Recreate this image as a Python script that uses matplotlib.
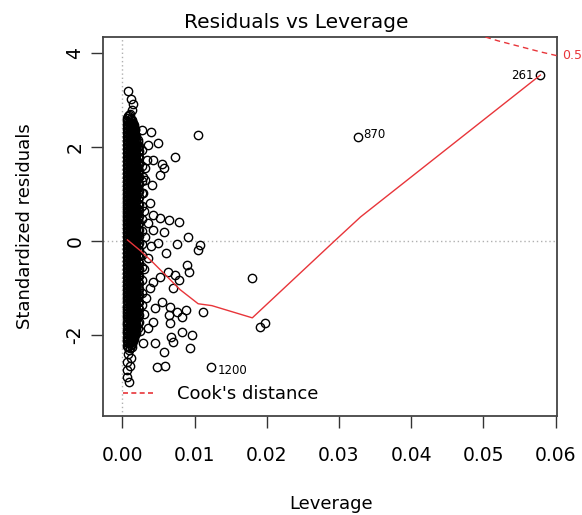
import matplotlib
matplotlib.use("Agg")
import matplotlib.pyplot as plt
from matplotlib.lines import Line2D

# ---- data ----
# dense core of the leverage column: one list of residuals per leverage strip
core_lev = [0.0007, 0.00085, 0.0010, 0.00115, 0.0013, 0.00145, 0.0016, 0.00175, 0.0019, 0.0021, 0.0023, 0.0027]
core_res_1 = [-2.22, -2.13, -2.05, -1.96, -1.88, -1.79, -1.71, -1.62, -1.53, -1.45, -1.37, -1.28, -1.19, -1.11,
              -1.02, -0.94, -0.85, -0.77, -0.68, -0.6, -0.51, -0.42, -0.34, -0.25, -0.17, -0.08, 0.0, 0.09,
              0.17, 0.26, 0.34, 0.43, 0.51, 0.6, 0.69, 0.77, 0.86, 0.94, 1.03, 1.11, 1.2, 1.28, 1.37, 1.45,
              1.54, 1.62, 1.71, 1.79, 1.88, 1.96, 2.05, 2.13, 2.22, 2.3, 2.39, 2.47, 2.56, 2.62]
core_res_2 = [-2.25, -2.16, -2.08, -1.99, -1.9, -1.82, -1.73, -1.64, -1.56, -1.47, -1.39, -1.3, -1.21, -1.13,
              -1.04, -0.96, -0.87, -0.79, -0.7, -0.62, -0.53, -0.44, -0.36, -0.27, -0.19, -0.1, -0.02, 0.07,
              0.15, 0.24, 0.32, 0.41, 0.49, 0.58, 0.67, 0.75, 0.84, 0.92, 1.01, 1.09, 1.18, 1.26, 1.35, 1.43,
              1.52, 1.6, 1.69, 1.77, 1.86, 1.94, 2.03, 2.11, 2.2, 2.28, 2.37, 2.45, 2.54, 2.66]
core_res_3 = [-2.28, -2.17, -2.09, -2.0, -1.92, -1.83, -1.74, -1.66, -1.57, -1.49, -1.41, -1.32, -1.23, -1.15,
              -1.06, -0.98, -0.89, -0.81, -0.72, -0.64, -0.55, -0.46, -0.38, -0.29, -0.21, -0.12, -0.04, 0.05,
              0.13, 0.22, 0.3, 0.39, 0.47, 0.56, 0.65, 0.73, 0.82, 0.9, 0.99, 1.07, 1.16, 1.24, 1.33, 1.41,
              1.5, 1.58, 1.67, 1.75, 1.84, 1.92, 2.01, 2.09, 2.18, 2.26, 2.35, 2.43, 2.52, 2.61, 2.7]
core_res_4 = [-2.2, -2.12, -2.03, -1.94, -1.86, -1.77, -1.69, -1.6, -1.52, -1.43, -1.35, -1.26, -1.17, -1.09,
              -1.0, -0.92, -0.83, -0.75, -0.66, -0.58, -0.49, -0.41, -0.32, -0.23, -0.15, -0.06, 0.02, 0.11,
              0.19, 0.28, 0.36, 0.45, 0.53, 0.62, 0.7, 0.79, 0.87, 0.96, 1.04, 1.13, 1.21, 1.3, 1.38, 1.47,
              1.55, 1.64, 1.72, 1.81, 1.89, 1.98, 2.06, 2.15, 2.23, 2.32, 2.4, 2.49, 2.6]
core_res_5 = [-2.18, -2.1, -2.01, -1.92, -1.84, -1.75, -1.67, -1.58, -1.5, -1.41, -1.33, -1.24, -1.16, -1.07,
              -0.99, -0.9, -0.82, -0.73, -0.65, -0.56, -0.48, -0.39, -0.31, -0.22, -0.14, -0.05, 0.03, 0.12,
              0.2, 0.29, 0.37, 0.46, 0.54, 0.63, 0.71, 0.8, 0.88, 0.97, 1.05, 1.14, 1.22, 1.31, 1.39, 1.48,
              1.56, 1.65, 1.73, 1.82, 1.9, 1.99, 2.07, 2.16, 2.24, 2.33, 2.41, 2.5, 2.58]
core_res_6 = [-2.12, -2.03, -1.95, -1.86, -1.77, -1.68, -1.6, -1.51, -1.42, -1.33, -1.24, -1.16, -1.07, -0.98,
              -0.89, -0.8, -0.72, -0.63, -0.54, -0.45, -0.36, -0.28, -0.19, -0.1, -0.01, 0.07, 0.16, 0.25,
              0.34, 0.42, 0.51, 0.6, 0.69, 0.77, 0.86, 0.95, 1.04, 1.12, 1.21, 1.3, 1.39, 1.47, 1.56, 1.65,
              1.74, 1.82, 1.91, 2.0, 2.09, 2.17, 2.26, 2.35, 2.44, 2.52]
core_res_7 = [-2.08, -1.99, -1.9, -1.81, -1.73, -1.64, -1.55, -1.46, -1.37, -1.29, -1.2, -1.11, -1.02, -0.94,
              -0.85, -0.76, -0.67, -0.59, -0.5, -0.41, -0.32, -0.24, -0.15, -0.06, 0.03, 0.11, 0.2, 0.29,
              0.38, 0.46, 0.55, 0.64, 0.73, 0.81, 0.9, 0.99, 1.08, 1.16, 1.25, 1.34, 1.43, 1.51, 1.6, 1.69,
              1.78, 1.86, 1.95, 2.04, 2.13, 2.21, 2.3, 2.39, 2.48]
core_res_8 = [-2.0, -1.91, -1.82, -1.72, -1.63, -1.54, -1.44, -1.35, -1.26, -1.16, -1.07, -0.98, -0.88, -0.79,
              -0.7, -0.6, -0.51, -0.42, -0.32, -0.23, -0.14, -0.04, 0.05, 0.14, 0.24, 0.33, 0.42, 0.52,
              0.61, 0.7, 0.8, 0.89, 0.98, 1.08, 1.17, 1.26, 1.36, 1.45, 1.54, 1.64, 1.73, 1.82, 1.92, 2.01,
              2.1, 2.2, 2.29, 2.38]
core_res_9 = [-1.95, -1.85, -1.76, -1.66, -1.55, -1.46, -1.36, -1.25, -1.16, -1.06, -0.95, -0.86, -0.76, -0.65,
              -0.56, -0.46, -0.35, -0.26, -0.16, -0.05, 0.04, 0.14, 0.25, 0.34, 0.44, 0.55, 0.64, 0.74,
              0.85, 0.94, 1.04, 1.15, 1.24, 1.34, 1.45, 1.54, 1.64, 1.75, 1.84, 1.94, 2.05, 2.14, 2.25]
core_res_10 = [-1.85, -1.74, -1.62, -1.51, -1.4, -1.29, -1.18, -1.07, -0.96, -0.85, -0.74, -0.63, -0.52, -0.41,
               -0.3, -0.19, -0.08, 0.03, 0.14, 0.25, 0.36, 0.47, 0.58, 0.69, 0.8, 0.91, 1.02, 1.13,
               1.24, 1.35, 1.46, 1.57, 1.68, 1.79, 1.9, 2.01, 2.15]
core_res_11 = [-1.72, -1.57, -1.44, -1.3, -1.15, -1.02, -0.88, -0.73, -0.6, -0.46, -0.31, -0.18, -0.04, 0.11,
               0.24, 0.38, 0.53, 0.66, 0.8, 0.95, 1.08, 1.22, 1.37, 1.5, 1.64, 1.79, 1.92, 2.03]
core_res_12 = [-1.35, -1.1, -0.82, -0.55, -0.3, -0.05, 0.22, 0.48, 0.75, 1.02, 1.28, 1.6]

# scattered points outside the dense core
spread_lev = [0.0008, 0.0012, 0.0015, 0.0013, 0.0009, 0.0011, 0.0018,
              0.0022, 0.0027, 0.0040, 0.0049, 0.0073, 0.0105, 0.0043, 0.0034, 0.0027, 0.0057,
              0.0052, 0.0032, 0.0055, 0.0029, 0.0041, 0.0029, 0.0038, 0.0043, 0.0052, 0.0064,
              0.0079, 0.0043, 0.0057, 0.0091, 0.0076, 0.0108, 0.0105, 0.0050, 0.0031, 0.0036,
              0.0030, 0.0035, 0.0032, 0.0040,
              0.0060, 0.0089, 0.0093, 0.0063, 0.0073, 0.0052, 0.0043, 0.0078, 0.0070, 0.0038,
              0.0055, 0.0066, 0.0076, 0.0088, 0.0112, 0.0045, 0.0064, 0.0083, 0.0043, 0.0066,
              0.0083, 0.0096, 0.0067, 0.0070, 0.0029, 0.0045, 0.0057, 0.0094, 0.0048, 0.0059,
              0.0180, 0.0191, 0.0198, 0.0035, 0.0030, 0.0033, 0.0030, 0.0036, 0.0025,
              0.0009, 0.0008, 0.0007, 0.0007, 0.0007, 0.0009, 0.0014, 0.0012, 0.0011]
spread_res = [3.20, 3.04, 2.92, 2.80, 2.68, 2.55, 2.40,
              2.12, 2.37, 2.33, 2.10, 1.80, 2.27, 1.73, 1.73, 1.95, 1.57,
              1.41, 1.31, 1.64, 1.37, 1.20, 1.03, 0.82, 0.56, 0.50, 0.46,
              0.41, 0.24, 0.20, 0.09, -0.05, -0.07, -0.18, -0.03, 1.55, 2.05,
              0.65, 0.40, 0.10, -0.10,
              -0.24, -0.50, -0.66, -0.66, -0.71, -0.75, -0.86, -0.82, -0.99, -0.99,
              -1.29, -1.40, -1.50, -1.46, -1.51, -1.42, -1.57, -1.62, -1.72, -1.74,
              -1.93, -2.00, -2.03, -2.14, -2.16, -2.16, -2.36, -2.27, -2.67, -2.65,
              -0.78, -1.83, -1.75, -0.35, -0.60, -1.20, -1.55, -1.85, -1.90,
              -2.31, -2.41, -2.56, -2.73, -2.90, -2.99, -2.25, -2.48, -2.65]

# labelled observations
lab_ids = ["261", "870", "1200"]
lab_lev = [0.0579, 0.0327, 0.0123]
lab_res = [3.54, 2.22, -2.67]

# red smoother
smooth_lev = [0.0007, 0.0025, 0.0043, 0.0080, 0.0105, 0.0124, 0.0180, 0.0292, 0.0330, 0.0579]
smooth_res = [0.03, -0.20, -0.46, -1.03, -1.33, -1.37, -1.63, -0.02, 0.52, 3.54]

# Cook's distance 0.5 contour (upper right corner)
cook_level = 0.5
cook_lev = [0.0490, 0.0520, 0.0550, 0.0580, 0.0625]
cook_res = [4.41, 4.27, 4.15, 4.03, 3.87]

x_ticks = [0.00, 0.01, 0.02, 0.03, 0.04, 0.05, 0.06]
y_ticks = [-2, 0, 2, 4]

plt.rcParams['font.family'] = ['DejaVu Sans']

W, H = 582, 515
fig = plt.figure(figsize=(W / 100, H / 100), dpi=100)
ax = fig.add_axes([103 / W, 99 / H, 454 / W, 379 / H])

# reference lines
ax.axhline(0, color='#b0b0b0', linestyle=(0, (1, 2)), linewidth=1, zorder=1)
ax.axvline(0, color='#b0b0b0', linestyle=(0, (1, 2)), linewidth=1, zorder=1)

# points
pt_style = dict(marker='o', linestyle='none', markerfacecolor='none', markeredgecolor='black',
                markersize=6, markeredgewidth=1.0, zorder=3)
core_strips = [core_res_1, core_res_2, core_res_3, core_res_4, core_res_5, core_res_6,
               core_res_7, core_res_8, core_res_9, core_res_10, core_res_11, core_res_12]
for lev, res in zip(core_lev, core_strips):
    ax.plot([lev] * len(res), res, **pt_style)
ax.plot(spread_lev, spread_res, **pt_style)
ax.plot(lab_lev, lab_res, **pt_style)

# smoother and Cook's contour
red = '#e8353a'
ax.plot(smooth_lev, smooth_res, color=red, linewidth=1.0, zorder=4)
ax.plot(cook_lev, cook_res, color=red, linestyle=(0, (4, 3)), linewidth=1.0, zorder=4)
ax.annotate(str(cook_level), xy=(1.0, cook_res[-2] - 0.08), xycoords=('axes fraction', 'data'),
            xytext=(4, 0), textcoords='offset points', ha='left', va='center',
            color=red, fontsize=9, annotation_clip=False)

# point labels
offsets = {"261": (-5, 0, 'right'), "870": (3.5, 1.5, 'left'), "1200": (5, -3, 'left')}
for name, lv, rs in zip(lab_ids, lab_lev, lab_res):
    dx, dy, ha = offsets[name]
    ax.annotate(name, xy=(lv, rs), xytext=(dx, dy), textcoords='offset points',
                ha=ha, va='center', fontsize=8.5)

ax.set_xlim(-0.00268, 0.0602)
ax.set_ylim(-3.72, 4.35)
ax.set_xticks(x_ticks)
ax.set_xticklabels([f"{v:.2f}" for v in x_ticks])
ax.set_yticks(y_ticks)
ax.set_yticklabels([str(v) for v in y_ticks], rotation=90, va='center')
ax.tick_params(direction='out', length=8.5, width=1, labelsize=13.5, color='#333333')
ax.tick_params(axis='x', pad=13)
ax.tick_params(axis='y', pad=5)
for sp in ax.spines.values():
    sp.set_color('#444444')
    sp.set_linewidth(1.3)

leg = ax.legend(handles=[Line2D([], [], color=red, linestyle=(0, (3, 2)), linewidth=1.2)],
                labels=["Cook's distance"], loc='center left', bbox_to_anchor=(0.044, 0.058),
                frameon=False, fontsize=13, handlelength=1.7, handletextpad=1.3,
                borderpad=0, borderaxespad=0)

fig.text(296 / W, 1 - 28 / H, "Residuals vs Leverage", ha='center', va='baseline', fontsize=14.5)
fig.text(331 / W, 1 - 509 / H, "Leverage", ha='center', va='baseline', fontsize=13)
fig.text(25 / W, 1 - 226 / H, "Standardized residuals", ha='center', va='center',
         rotation=90, fontsize=13)

fig.savefig("out.png", dpi=100)
